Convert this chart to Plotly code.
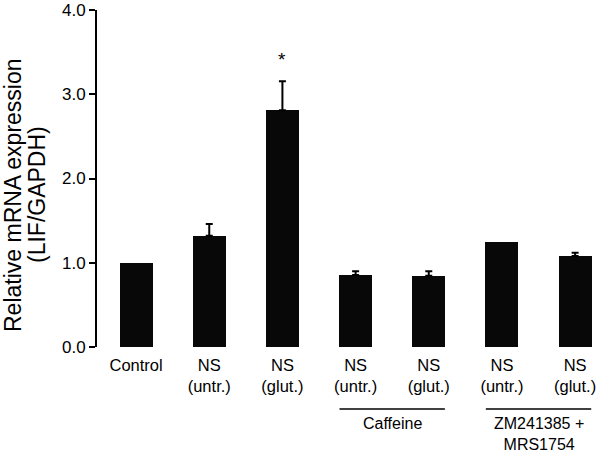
import plotly.graph_objects as go

# ---- data ----
labels = ["Control", "NS<br>(untr.)", "NS<br>(glut.)", "NS<br>(untr.)", "NS<br>(glut.)", "NS<br>(untr.)", "NS<br>(glut.)"]
values = [1.00, 1.32, 2.81, 0.855, 0.845, 1.245, 1.08]
errors = [None, 0.14, 0.345, 0.045, 0.055, None, 0.04]
y_ticks = [0, 1, 2, 3, 4]
y_ticklabels = ["0.0", "1.0", "2.0", "3.0", "4.0"]
group_names = ["Caffeine", "ZM241385 +<br>MRS1754"]
group_members = [[3, 4], [5, 6]]
sig_index = 2
sig_label = "*"
y_title_lines = ["Relative mRNA expression", "(LIF/GAPDH)"]

FONT = "Liberation Sans, Arial, Helvetica, sans-serif"
W, H = 600, 454
ML, MR, MT, MB = 97, 0, 10, 107
PW, PH = W - ML - MR, H - MT - MB
xs = list(range(len(values)))


def px_to_paper_x(px):
    return (px - ML) / PW


def px_to_paper_y(py):
    return (H - MB - py) / PH


fig = go.Figure()
fig.add_trace(go.Bar(
    x=xs, y=values, width=0.45,
    marker=dict(color="#080808", line=dict(width=0)),
    showlegend=False, hoverinfo="skip",
))

# error bars only where the reference shows them
err_idx = [i for i, e in enumerate(errors) if e is not None]
fig.add_trace(go.Scatter(
    x=[xs[i] for i in err_idx], y=[values[i] for i in err_idx],
    mode="markers", marker=dict(size=0.1, color="rgba(0,0,0,0)"),
    error_y=dict(type="data", symmetric=False,
                 array=[errors[i] for i in err_idx],
                 arrayminus=[0] * len(err_idx), color="black",
                 thickness=2, width=3.5),
    showlegend=False, hoverinfo="skip",
))

# significance star
fig.add_annotation(x=xs[sig_index], y=values[sig_index] + errors[sig_index] + 0.255,
                   text=sig_label, showarrow=False, xref="x", yref="y",
                   yanchor="middle", xanchor="center",
                   font=dict(family=FONT, size=19, color="black"))

# group lines and labels
for name, members in zip(group_names, group_members):
    lo, hi = min(members), max(members)
    fig.add_shape(type="line", xref="x", yref="paper",
                  x0=lo - 0.22, x1=hi + 0.22,
                  y0=px_to_paper_y(409), y1=px_to_paper_y(409),
                  line=dict(color="black", width=1.5))
    fig.add_annotation(x=(lo + hi) / 2, y=px_to_paper_y(413), xref="x", yref="paper",
                       text=name, showarrow=False, yanchor="top", xanchor="center",
                       font=dict(family=FONT, size=16, color="black"))

# y-axis title (two rotated lines)
for line_text, cx in zip(y_title_lines, [13, 37]):
    fig.add_annotation(x=px_to_paper_x(cx), y=px_to_paper_y(195),
                       xref="paper", yref="paper", text=line_text,
                       textangle=-90, showarrow=False,
                       xanchor="center", yanchor="middle",
                       font=dict(family=FONT, size=23, color="black"))

fig.update_layout(
    width=W, height=H,
    margin=dict(l=ML, r=MR, t=MT, b=MB),
    plot_bgcolor="white", paper_bgcolor="white",
    font=dict(family=FONT, size=16, color="black"),
    bargap=0,
)
fig.update_xaxes(range=[-0.534, 6.34], tickvals=xs, ticktext=labels,
                 showline=False, showgrid=False, zeroline=False,
                 ticks="outside", ticklen=3, tickcolor="rgba(0,0,0,0)",
                 tickfont=dict(family=FONT, size=16.5, color="black"))
fig.update_yaxes(range=[0, 4], tickvals=y_ticks, ticktext=y_ticklabels,
                 showline=True, linecolor="black", linewidth=2,
                 ticks="outside", ticklen=6, tickwidth=2, tickcolor="black",
                 showgrid=False, zeroline=False,
                 tickfont=dict(family=FONT, size=17, color="black"))

fig.write_html("out.html", config={"displayModeBar": False},
               post_script="document.body.style.margin='0';")
